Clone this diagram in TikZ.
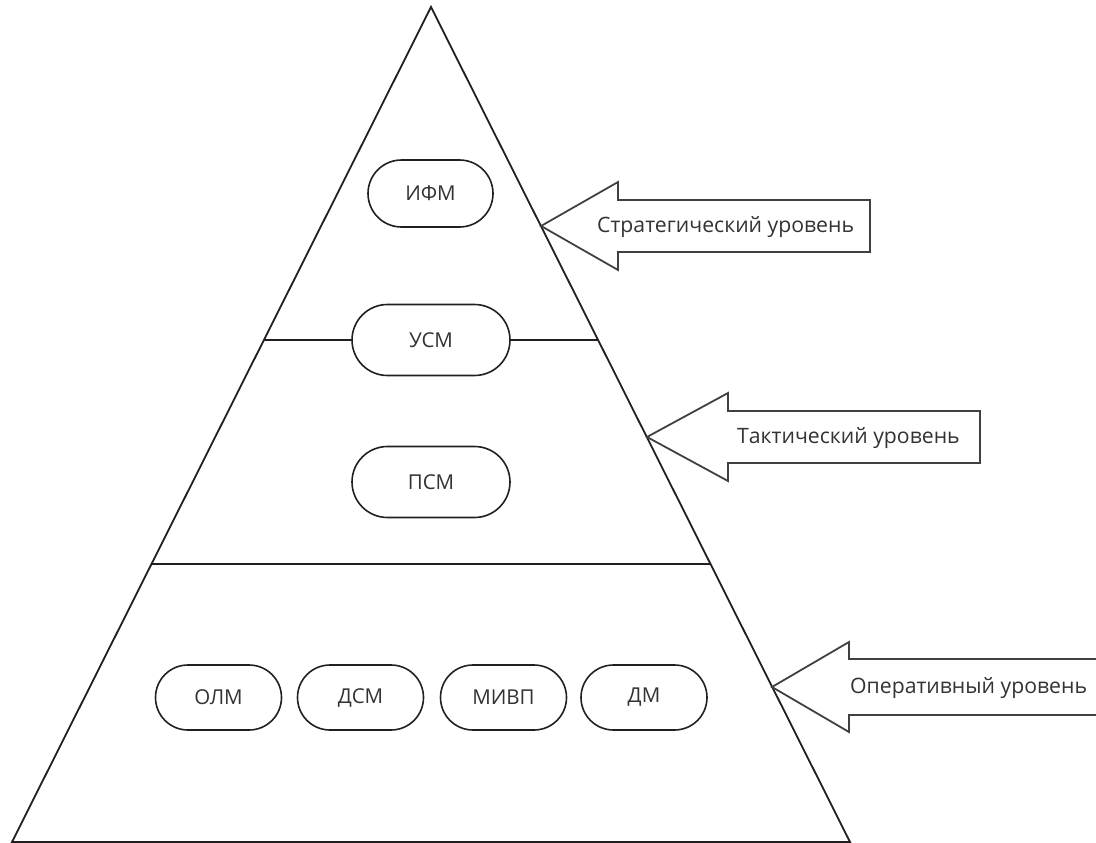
\documentclass[tikz,border=0pt]{standalone}
\usepackage{fontspec}
\setmainfont{Open Sans}
\usetikzlibrary{shapes.misc}
\definecolor{lineblack}{HTML}{231F20}
\definecolor{arrowgray}{HTML}{404040}
\definecolor{textgray}{HTML}{333333}
\begin{document}
\begin{tikzpicture}[x=1pt,y=-1pt,
  ln/.style={line width=1.8pt, draw=lineblack},
  arr/.style={line width=1.8pt, draw=arrowgray, fill=white, line join=miter},
  lbl/.style={anchor=west, inner sep=0pt, text=textgray, font=\fontsize{21.2}{24}\selectfont},
  mod/.style={rounded rectangle, draw=lineblack, line width=1.6pt, fill=white,
    text=textgray, font=\fontsize{20.5}{23}\selectfont, inner sep=0pt},
  modA/.style={mod, minimum width=125pt, minimum height=67pt},
  modB/.style={mod, minimum width=158pt, minimum height=71pt},
  modC/.style={mod, minimum width=126pt, minimum height=65pt}
]
\useasboundingbox (0,0) rectangle (1096,843);
% pyramid
\coordinate (apex) at (431,7);
\coordinate (bl) at (12,842);
\coordinate (br) at (850,842);
\draw[ln, line join=miter] (bl) -- (apex) -- (br) -- cycle;
% level lines
\coordinate (l1L) at (264,340);
\coordinate (l1R) at (598,340);
\coordinate (l2L) at (151.5,564);
\coordinate (l2R) at (710.5,564);
\draw[ln] (l1L) -- (l1R);
\draw[ln] (l2L) -- (l2R);
% modules
\node[modA] (ifm) at (430.5,193.5) {ИФМ};
\node[modB] (usm) at (431,340) {УСМ};
\node[modB] (psm) at (431,482) {ПСМ};
\node[modC] (olm) at (218.5,697.5) {ОЛМ};
\node[modC] (dsm) at (360.5,697.5) {ДСМ};
\node[modC] (mivp) at (503.5,697.5) {МИВП};
\node[modC] (dm) at (644,697.5) {ДМ};
% level arrows
\coordinate (t1) at (541,226);
\draw[arr] (t1) -- (618,182) -- (618,200) -- (870,200) -- (870,252) -- (618,252) -- (618,270) -- cycle;
\node[lbl] (s1) at (597,227) {Стратегический уровень};
\coordinate (t2) at (647,437);
\draw[arr] (t2) -- (728,393) -- (728,411) -- (980,411) -- (980,463) -- (728,463) -- (728,481) -- cycle;
\node[lbl] (s2) at (737,438) {Тактический уровень};
\coordinate (t3) at (772,687);
\draw[arr] (t3) -- (849,642) -- (849,659) -- (1120,659) -- (1120,715) -- (849,715) -- (849,732) -- cycle;
\node[lbl] (s3) at (850,688) {Оперативный уровень};
\end{tikzpicture}
\end{document}
